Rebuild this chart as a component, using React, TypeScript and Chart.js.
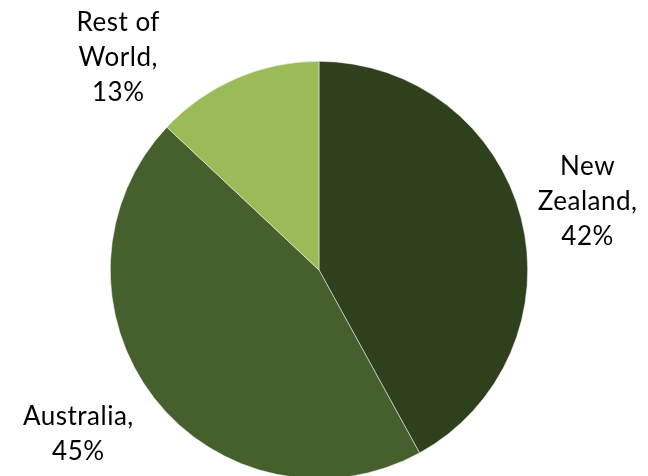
import React, { useEffect, useRef } from "react";
import { Chart, registerables } from "chart.js";

Chart.register(...registerables);

const categories = ["New Zealand", "Australia", "Rest of World"];
const shares = [42, 45, 13];
const labelLines = [
  ["New", "Zealand,"],
  ["Australia,"],
  ["Rest of", "World,"],
];
const sliceColors = ["#2E401C", "#46602D", "#9BBB59"];
// label block centre, in units of the pie radius, relative to the pie centre
const labelOffsets = [
  [1.287, -0.33],
  [-1.153, 0.787],
  [-0.962, -1.017],
];

const FONT = "26px Lato";
const LINE_H = 35;

const labelPlugin = {
  id: "outsideLabels",
  afterDatasetsDraw(chart: any) {
    const meta = chart.getDatasetMeta(0);
    const ctx = chart.ctx;
    ctx.save();
    ctx.font = FONT;
    (ctx as any).letterSpacing = "0.5px";
    ctx.fillStyle = "#000";
    ctx.textAlign = "center";
    ctx.textBaseline = "alphabetic";
    meta.data.forEach((arc: any, i: number) => {
      const r = arc.outerRadius;
      const cx = arc.x + labelOffsets[i][0] * r;
      const cy = arc.y + labelOffsets[i][1] * r;
      const lines = [...labelLines[i], shares[i] + "%"];
      const n = lines.length;
      lines.forEach((t, j) => {
        const by = cy + 8.5 + (j - (n - 1) / 2) * LINE_H;
        ctx.fillText(t, cx, by);
      });
    });
    ctx.restore();
  },
};

export default function App() {
  const ref = useRef<HTMLCanvasElement>(null);
  useEffect(() => {
    document.body.style.margin = "0";
    const chart = new Chart(ref.current!, {
      type: "pie",
      data: {
        labels: categories,
        datasets: [
          {
            data: shares,
            backgroundColor: sliceColors,
            borderColor: "rgba(255,255,255,0.8)",
            borderWidth: 0.6,
          },
        ],
      },
      options: {
        animation: false,
        responsive: false,
        maintainAspectRatio: false,
        layout: { padding: { top: 61, bottom: 11, left: 110, right: 120 } },
        plugins: {
          legend: { display: false },
          tooltip: { enabled: false },
        },
      },
      plugins: [labelPlugin],
    });
    return () => chart.destroy();
  }, []);
  return (
    <div style={{ position: "absolute", left: 0, top: 0, width: 648, height: 490, background: "#fff" }}>
      <canvas ref={ref} width={648} height={490} style={{ width: 648, height: 490 }} />
    </div>
  );
}
